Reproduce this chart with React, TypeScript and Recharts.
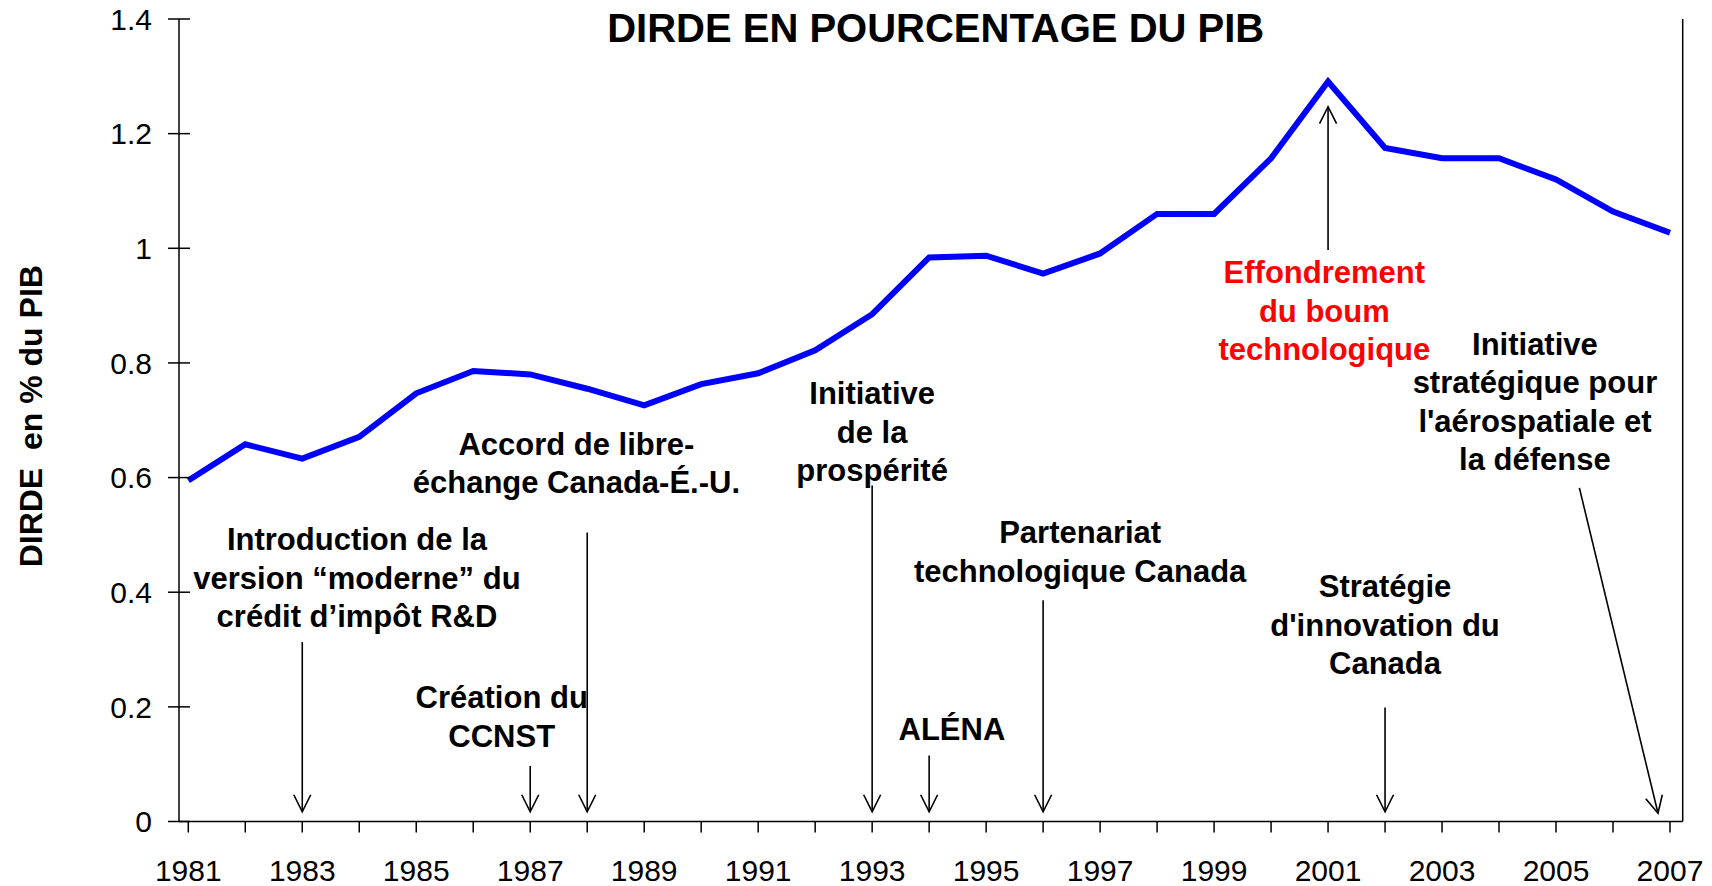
import { LineChart, Line, XAxis, YAxis, ReferenceLine, ReferenceDot, Label } from 'recharts'

const YEARS = [
  1981, 1982, 1983, 1984, 1985, 1986, 1987, 1988, 1989, 1990, 1991, 1992, 1993, 1994,
  1995, 1996, 1997, 1998, 1999, 2000, 2001, 2002, 2003, 2004, 2005, 2006, 2007,
]
const DIRDE_PCT = [
  0.595, 0.658, 0.633, 0.671, 0.747, 0.786, 0.78, 0.755, 0.726, 0.763, 0.782, 0.822, 0.885, 0.984,
  0.987, 0.956, 0.991, 1.06, 1.06, 1.157, 1.291, 1.175, 1.157, 1.157, 1.12, 1.064, 1.027,
]
const Y_TICKS = [0, 0.2, 0.4, 0.6, 0.8, 1, 1.2, 1.4]
const X_DOMAIN: [number, number] = [1980.837, 2007.223]

const TITLE = 'DIRDE EN POURCENTAGE DU PIB'
const Y_LABEL = 'DIRDE  en % du PIB'

// policy events: text block (centre year, first baseline value) + arrow
const EVENTS = [
  { lines: ['Introduction de la', 'version “moderne” du', 'crédit d’impôt R&D'], tx: 1983.96, ty: 0.473, ax1: 1983, ay1: 0.313, ax2: 1983, ay2: 0.017 },
  { lines: ['Création du', 'CCNST'], tx: 1986.5, ty: 0.1975, ax1: 1987, ay1: 0.097, ax2: 1987, ay2: 0.017 },
  { lines: ['Accord de libre-', 'échange Canada-É.-U.'], tx: 1987.81, ty: 0.64, ax1: 1988, ay1: 0.504, ax2: 1988, ay2: 0.017 },
  { lines: ['Initiative', 'de la', 'prospérité'], tx: 1993, ty: 0.728, ax1: 1993, ay1: 0.586, ax2: 1993, ay2: 0.017 },
  { lines: ['ALÉNA'], tx: 1994.4, ty: 0.1417, ax1: 1994, ay1: 0.115, ax2: 1994, ay2: 0.017 },
  { lines: ['Partenariat', 'technologique Canada'], tx: 1996.65, ty: 0.4853, ax1: 1996, ay1: 0.386, ax2: 1996, ay2: 0.017 },
  { lines: ['Stratégie', "d'innovation du", 'Canada'], tx: 2002, ty: 0.391, ax1: 2002, ay1: 0.199, ax2: 2002, ay2: 0.017 },
  { lines: ['Effondrement', 'du boum', 'technologique'], tx: 2000.935, ty: 0.939, ax1: 2001, ay1: 0.997, ax2: 2001, ay2: 1.247, red: true },
  { lines: ['Initiative', 'stratégique pour', "l'aérospatiale et", 'la défense'], tx: 2004.63, ty: 0.8138, ax1: 2005.41, ay1: 0.582, ax2: 2006.79, ay2: 0.0143 },
]

const data = YEARS.map((year, i) => ({ year, value: DIRDE_PCT[i] }))

const FONT = '"Liberation Sans", Arial, sans-serif'
const Y_TICK_SIZE = 11
const Y_TICK_MARGIN = 16

function YTick(props: any) {
  const { x, y, payload } = props
  const axisX = x + Y_TICK_SIZE + Y_TICK_MARGIN
  return (
    <g>
      <line x1={axisX - 11} x2={axisX + 11} y1={y} y2={y} stroke="#000" strokeWidth={1.5} />
      <text x={x} y={y} dy="0.36em" textAnchor="end" fontSize={30} fontFamily={FONT} fill="#000">
        {payload.value}
      </text>
    </g>
  )
}

function arrowShape(props: any) {
  const { x1, y1, x2, y2 } = props
  const ang = Math.atan2(y2 - y1, x2 - x1)
  const c = Math.cos(ang)
  const s = Math.sin(ang)
  const bx = x2 - 17 * c
  const by = y2 - 17 * s
  const px = -s * 8.5
  const py = c * 8.5
  return (
    <g>
      <line x1={x1} y1={y1} x2={x2} y2={y2} stroke="#000" strokeWidth={1.6} />
      <polyline
        points={`${bx + px},${by + py} ${x2},${y2} ${bx - px},${by - py}`}
        fill="none"
        stroke="#000"
        strokeWidth={1.6}
      />
    </g>
  )
}

function noteShape(lines: string[], color: string) {
  return (props: any) => {
    const { cx, cy } = props
    return (
      <text x={cx} y={cy} textAnchor="middle" fontSize={31} fontWeight="bold" fontFamily={FONT} fill={color}>
        {lines.map((l, i) => (
          <tspan key={i} x={cx} dy={i === 0 ? 0 : 38.4}>
            {l}
          </tspan>
        ))}
      </text>
    )
  }
}

export default function App() {
  return (
    <div style={{ position: 'absolute', left: 0, top: 0, width: 1712, height: 886, background: '#fff' }}>
      <div
        style={{
          position: 'absolute',
          left: 535.7,
          top: 7.8,
          width: 800,
          textAlign: 'center',
          fontFamily: FONT,
          fontWeight: 'bold',
          fontSize: 40,
          lineHeight: '40px',
          color: '#000',
        }}
      >
        {TITLE}
      </div>
      <LineChart width={1712} height={886} data={data} margin={{ top: 19, right: 29.3, bottom: 0, left: 0 }}>
        <XAxis
          dataKey="year"
          type="number"
          domain={X_DOMAIN}
          ticks={YEARS}
          interval={0}
          allowDataOverflow
          tickFormatter={(v: number) => ((v - 1981) % 2 === 0 ? String(v) : '')}
          height={64.5}
          tickSize={11}
          tickMargin={27}
          stroke="#000"
          strokeWidth={1.5}
          tick={{ fill: '#000', fontSize: 30, fontFamily: FONT }}
        />
        <YAxis
          domain={[0, 1.4]}
          ticks={Y_TICKS}
          width={179}
          tickSize={Y_TICK_SIZE}
          tickMargin={Y_TICK_MARGIN}
          tickLine={false}
          stroke="#000"
          strokeWidth={1.5}
          tick={YTick}
          interval={0}
        >
          <Label
            content={(p: any) => {
              const vb = p.viewBox || { y: 19, height: 802 }
              const cy = vb.y + vb.height / 2 - 4
              return (
                <text
                  x={41.7}
                  y={cy}
                  transform={`rotate(-90, 41.7, ${cy})`}
                  textAnchor="middle"
                  fontSize={32}
                  fontWeight="bold"
                  fontFamily={FONT}
                  fill="#000"
                  style={{ whiteSpace: 'pre' }}
                >
                  {Y_LABEL}
                </text>
              )
            }}
          />
        </YAxis>
        <ReferenceLine x={X_DOMAIN[1]} stroke="#000" strokeWidth={1.5} ifOverflow="visible" />
        <Line
          type="linear"
          dataKey="value"
          stroke="#0000FF"
          strokeWidth={6}
          dot={false}
          activeDot={false}
          isAnimationActive={false}
        />
        {EVENTS.map((e, i) => (
          <ReferenceLine
            key={'a' + i}
            segment={[
              { x: e.ax1, y: e.ay1 },
              { x: e.ax2, y: e.ay2 },
            ]}
            ifOverflow="visible"
            shape={arrowShape}
          />
        ))}
        {EVENTS.map((e, i) => (
          <ReferenceDot
            key={'t' + i}
            x={e.tx}
            y={e.ty}
            r={1}
            ifOverflow="visible"
            shape={noteShape(e.lines, e.red ? '#FF0000' : '#000')}
          />
        ))}
      </LineChart>
    </div>
  )
}
